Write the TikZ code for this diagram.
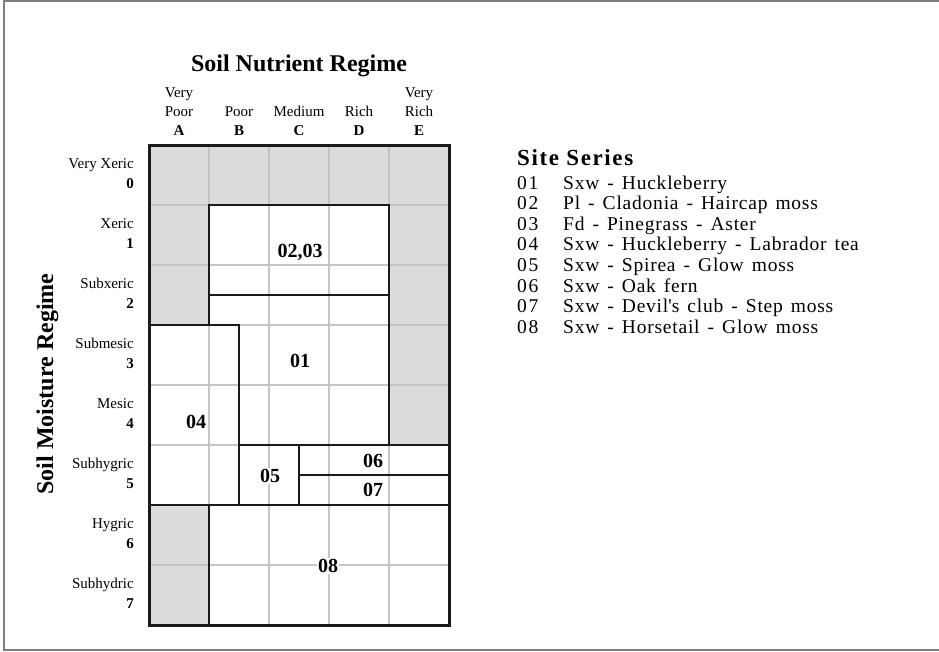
\documentclass[tikz,border=0pt]{standalone}
\usepackage{fontspec}
\setmainfont{Liberation Serif}
\definecolor{cellgray}{HTML}{DCDCDC}
\definecolor{gridc}{HTML}{C4C4C4}
\definecolor{ink}{HTML}{1A1A1A}
\definecolor{framec}{HTML}{808080}
\newcommand\wide[1]{\spaceskip=8pt\relax #1}
\begin{document}
\begin{tikzpicture}[x=1pt,y=-1pt,
  small/.style={font=\fontsize{15}{18}\selectfont, inner sep=0pt},
  smallb/.style={font=\fontsize{15}{18}\selectfont\bfseries, inner sep=0pt},
  bigtitle/.style={font=\fontsize{24}{28}\selectfont\bfseries, inner sep=0pt},
  reglabel/.style={font=\fontsize{20}{24}\selectfont\bfseries, inner sep=1pt},
  listtxt/.style={font=\fontsize{19.5}{22}\selectfont\addfontfeature{LetterSpace=4}, inner sep=0pt, anchor=base west},
  listnum/.style={font=\fontsize{19.5}{22}\selectfont\addfontfeature{LetterSpace=9}, inner sep=0pt, anchor=base west},
  region/.style={draw=ink, line width=2.6pt},
  gridline/.style={draw=gridc, line width=2pt}]
\useasboundingbox (0,0) rectangle (939,651);
% outer frame
\draw[framec, line width=2pt] (945,1) -- (4,1) -- (4,650) -- (945,650);
% grid background
\fill[white] (149,145) rectangle (449,625);
\fill[cellgray] (149,145) rectangle (449,205);
\fill[cellgray] (149,205) rectangle (209,325);
\fill[cellgray] (389,205) rectangle (449,445);
\fill[cellgray] (149,505) rectangle (209,625);
% grid lines
\foreach \gx in {209,269,329,389} \draw[gridline] (\gx,145) -- (\gx,625);
\foreach \gy in {205,265,325,385,445,505,565} \draw[gridline] (149,\gy) -- (449,\gy);
% regions
\draw[region] (209,205) rectangle (389,295);
\draw[region] (209,295) -- (389,295) -- (389,445) -- (239,445) -- (239,325) -- (209,325) -- cycle;
\draw[region] (149,325) rectangle (239,505);
\draw[region] (239,445) rectangle (299,505);
\draw[region] (299,445) rectangle (449,475);
\draw[region] (299,475) rectangle (449,505);
\draw[region] (209,505) rectangle (449,625);
\draw[ink, line width=3pt] (149,145) rectangle (449,625);
% region labels
\node[reglabel] (r0203) at (300,252) {02,03};
\node[reglabel] (r01) at (300,361) {01};
\node[reglabel] (r04) at (196,422) {04};
\node[reglabel, fill=white] (r05) at (270,476) {05};
\node[reglabel] (r06) at (373,461) {06};
\node[reglabel] (r07) at (373,490) {07};
\node[reglabel, fill=white] (r08) at (328,566) {08};
% title
\node[bigtitle, anchor=base] (ntitle) at (299,71) {Soil Nutrient Regime};
% column headers
\node[small, anchor=base] (hA1) at (179,97) {Very};
\node[small, anchor=base] (hA2) at (179,116) {Poor};
\node[small, anchor=base] (hB2) at (239,116) {Poor};
\node[small, anchor=base] (hC2) at (299,116) {Medium};
\node[small, anchor=base] (hD2) at (359,116) {Rich};
\node[small, anchor=base] (hE1) at (419,97) {Very};
\node[small, anchor=base] (hE2) at (419,116) {Rich};
\foreach \c/\xx in {A/179,B/239,C/299,D/359,E/419}
  \node[smallb, anchor=base] (hL\c) at (\xx,135) {\c};
% row labels
\foreach \k/\nm in {0/Very Xeric,1/Xeric,2/Subxeric,3/Submesic,4/Mesic,5/Subhygric,6/Hygric,7/Subhydric}{
  \pgfmathsetmacro{\rc}{175+60*\k}
  \node[small, anchor=base east] (rn\k) at (134,\rc-7) {\nm};
  \node[smallb, anchor=base east] (rd\k) at (134,\rc+13) {\k};
}
\node[bigtitle, rotate=90, anchor=base] (ytitle) at (53,384) {Soil Moisture Regime};
% legend
\node[font=\fontsize{23}{26}\selectfont\bfseries\addfontfeature{LetterSpace=7}, inner sep=0pt, anchor=base west] (lhead) at (517,165) {Site Series};
\foreach \k/\txt in {1/Sxw - Huckleberry,2/Pl - Cladonia - Haircap moss,3/Fd - Pinegrass - Aster,4/Sxw - Huckleberry - Labrador tea,5/Sxw - Spirea - Glow moss,6/Sxw - Oak fern,7/Sxw - Devil\textquotesingle s club - Step moss,8/Sxw - Horsetail - Glow moss}{
  \pgfmathsetmacro{\by}{189+20.65*(\k-1)}
  \node[listnum] (ln\k) at (517,\by) {0\k};
  \node[listtxt] (lt\k) at (563,\by) {\wide{\txt}};
}
\end{tikzpicture}
\end{document}
